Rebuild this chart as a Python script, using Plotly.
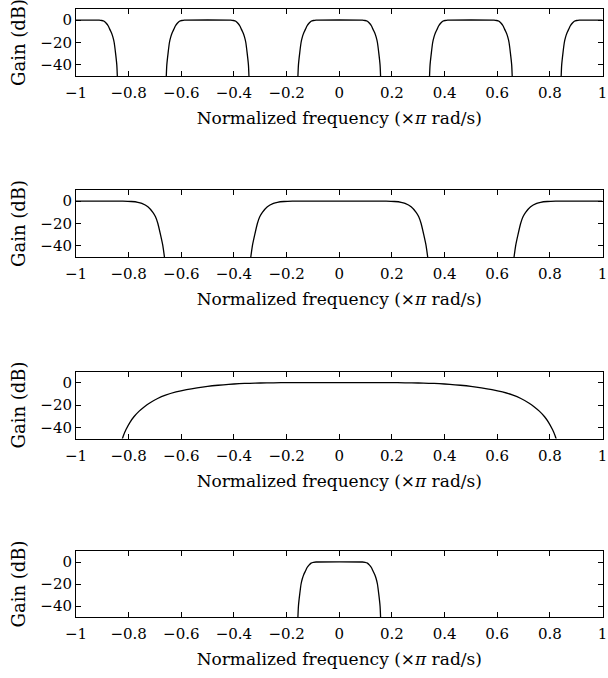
import plotly.graph_objects as go

# ---- data (x in ×π rad/s, gain in dB) ----
# Panel 1: five narrow pass bands
p1_x = [-1.0, -0.912, -0.902, -0.893, -0.885, -0.878, -0.872, -0.865, -0.860, -0.855, -0.850, -0.845, -0.843, None,
        -0.657, -0.655, -0.650, -0.645, -0.640, -0.635, -0.628, -0.622, -0.615, -0.607, -0.598, -0.588,
        -0.412, -0.402, -0.393, -0.385, -0.378, -0.372, -0.365, -0.360, -0.355, -0.350, -0.345, -0.343, None,
        -0.157, -0.155, -0.150, -0.145, -0.140, -0.135, -0.128, -0.122, -0.115, -0.107, -0.098, -0.088,
        0.088, 0.098, 0.107, 0.115, 0.122, 0.128, 0.135, 0.140, 0.145, 0.150, 0.155, 0.157, None,
        0.343, 0.345, 0.350, 0.355, 0.360, 0.365, 0.372, 0.378, 0.385, 0.393, 0.402, 0.412,
        0.588, 0.598, 0.607, 0.615, 0.622, 0.628, 0.635, 0.640, 0.645, 0.650, 0.655, 0.657, None,
        0.843, 0.845, 0.850, 0.855, 0.860, 0.865, 0.872, 0.878, 0.885, 0.893, 0.902, 0.912, 1.0]
p1_y = [0, 0, -0.3, -1, -2.8, -5, -8, -11.5, -15, -20, -29, -40, -50, None,
        -50, -40, -29, -20, -15, -11.5, -8, -5, -2.8, -1, -0.3, 0,
        0, -0.3, -1, -2.8, -5, -8, -11.5, -15, -20, -29, -40, -50, None,
        -50, -40, -29, -20, -15, -11.5, -8, -5, -2.8, -1, -0.3, 0,
        0, -0.3, -1, -2.8, -5, -8, -11.5, -15, -20, -29, -40, -50, None,
        -50, -40, -29, -20, -15, -11.5, -8, -5, -2.8, -1, -0.3, 0,
        0, -0.3, -1, -2.8, -5, -8, -11.5, -15, -20, -29, -40, -50, None,
        -50, -40, -29, -20, -15, -11.5, -8, -5, -2.8, -1, -0.3, 0, 0]

# Panel 2: three wider pass bands
p2_x = [-1.0, -0.822, -0.790, -0.765, -0.750, -0.727, -0.708, -0.698, -0.689, -0.679, -0.670, -0.664, None,
        -0.336, -0.330, -0.321, -0.311, -0.302, -0.292, -0.273, -0.250, -0.235, -0.210, -0.178,
        0.178, 0.210, 0.235, 0.250, 0.273, 0.292, 0.302, 0.311, 0.321, 0.330, 0.336, None,
        0.664, 0.670, 0.679, 0.689, 0.698, 0.708, 0.727, 0.750, 0.765, 0.790, 0.822, 1.0]
p2_y = [0, 0, -0.3, -1, -2, -5, -10, -14, -20, -30, -40, -50, None,
        -50, -40, -30, -20, -14, -10, -5, -2, -1, -0.3, 0,
        0, -0.3, -1, -2, -5, -10, -14, -20, -30, -40, -50, None,
        -50, -40, -30, -20, -14, -10, -5, -2, -1, -0.3, 0, 0]

# Panel 3: one wide band
p3_x = [-0.825, -0.820, -0.810, -0.795, -0.780, -0.760, -0.740, -0.720, -0.690, -0.660, -0.620,
        -0.580, -0.540, -0.500, -0.460, -0.420, -0.380, -0.340, -0.300, -0.250, -0.200,
        0.200, 0.250, 0.300, 0.340, 0.380, 0.420, 0.460, 0.500, 0.540, 0.580,
        0.620, 0.660, 0.690, 0.720, 0.740, 0.760, 0.780, 0.795, 0.810, 0.820, 0.825]
p3_y = [-51, -47.5, -42, -35.5, -30.5, -25.5, -21.5, -18.2, -14.2, -11.2, -8.3,
        -6.2, -4.6, -3.3, -2.3, -1.5, -0.9, -0.55, -0.3, -0.1, 0,
        0, -0.1, -0.3, -0.55, -0.9, -1.5, -2.3, -3.3, -4.6, -6.2,
        -8.3, -11.2, -14.2, -18.2, -21.5, -25.5, -30.5, -35.5, -42, -47.5, -51]

# Panel 4: one narrow band
p4_x = [-0.157, -0.155, -0.150, -0.145, -0.140, -0.135, -0.128, -0.122, -0.115, -0.107, -0.098, -0.088,
        0.088, 0.098, 0.107, 0.115, 0.122, 0.128, 0.135, 0.140, 0.145, 0.150, 0.155, 0.157]
p4_y = [-50, -40, -29, -20, -15, -11.5, -8, -5, -2.8, -1, -0.3, 0,
        0, -0.3, -1, -2.8, -5, -8, -11.5, -15, -20, -29, -40, -50]

x_tickvals = [-1, -0.8, -0.6, -0.4, -0.2, 0, 0.2, 0.4, 0.6, 0.8, 1]
x_ticktext = ["\u22121", "\u22120.8", "\u22120.6", "\u22120.4", "\u22120.2", "0", "0.2", "0.4", "0.6", "0.8", "1"]
y_tickvals = [0, -20, -40]
y_ticktext = ["0", "\u221220", "\u221240"]
x_title = "Normalized frequency (\u00d7<i>\u03c0</i> rad/s)"
y_title = "Gain (dB)"

panels = [(p1_x, p1_y), (p2_x, p2_y), (p3_x, p3_y), (p4_x, p4_y)]

W, H = 608, 678
boxes = [(9, 76), (190, 257), (371.5, 438.5), (551, 617)]
left, right = 76, 602.5

FONT = "DejaVu Serif"
fig = go.Figure()
layout = dict(
    template="none",
    width=W, height=H, margin=dict(l=0, r=0, t=0, b=0, autoexpand=False),
    paper_bgcolor="white", plot_bgcolor="white", showlegend=False,
    font=dict(family=FONT, color="black", size=15),
)
for i, (xs, ys) in enumerate(panels, start=1):
    fig.add_trace(go.Scatter(x=xs, y=ys, mode="lines", line=dict(color="black", width=1.3, shape="spline", smoothing=0.6),
                             xaxis=f"x{i}", yaxis=f"y{i}", hoverinfo="skip", connectgaps=False))
    top, bot = boxes[i - 1]
    layout[f"xaxis{i}"] = dict(
        domain=[left / W, right / W], anchor=f"y{i}", range=[-1, 1.00001], automargin=False,
        tickvals=x_tickvals, ticktext=x_ticktext, ticks="inside", ticklen=5, tickcolor="black",
        showline=True, linecolor="black", linewidth=1, mirror="ticks",
        showgrid=False, zeroline=False, tickfont=dict(family=FONT, size=15),
        ticklabeloverflow="allow", ticklabelstandoff=3,
        title=dict(text=x_title, standoff=11, font=dict(family=FONT, size=17)),
    )
    layout[f"yaxis{i}"] = dict(
        domain=[1 - bot / H, 1 - top / H], anchor=f"x{i}", range=[-50, 10], automargin=False,
        tickvals=y_tickvals, ticktext=y_ticktext, ticks="inside", ticklen=5, tickcolor="black",
        showline=True, linecolor="black", linewidth=1, mirror="ticks",
        showgrid=False, zeroline=False, tickfont=dict(family=FONT, size=15),
        title=dict(text=y_title, standoff=10, font=dict(family=FONT, size=18)),
    )
fig.update_layout(**layout)
fig.write_html("out.html")
